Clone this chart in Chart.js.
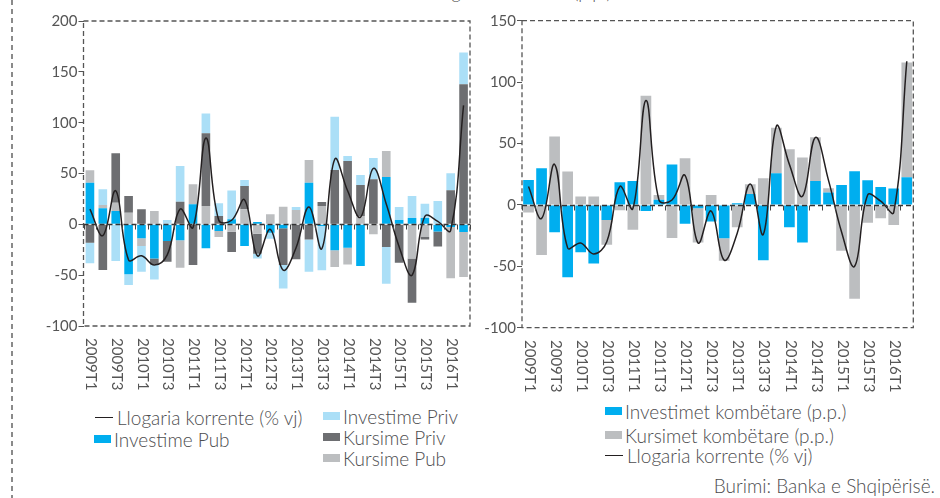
<!DOCTYPE html>
<html><head><meta charset="utf-8">
<script src="https://cdn.jsdelivr.net/npm/chart.js@4"></script>
<style>
body{margin:0;width:940px;height:498px;overflow:hidden;background:#fff;font-family:Lato,'Open Sans',sans-serif;color:#555;position:relative}
.abs{position:absolute}
#c1wrap{left:0;top:0;width:480px;height:400px}
#c2wrap{left:480px;top:0;width:460px;height:400px}
.leg{position:absolute;display:flex;align-items:center;height:22px;font-size:19px;font-weight:300;white-space:nowrap;color:#4d4d4f}
.sw{display:inline-block;width:17px;height:8px;margin-right:3px;flex:none}
.ln{display:inline-block;width:18px;height:0;border-top:1.5px solid #231f20;margin-right:4px;flex:none}
</style></head>
<body>
<div class="abs" style="left:11px;top:0;width:2px;height:498px;background:repeating-linear-gradient(to bottom,#8a8a8a 0 5px,transparent 5px 9px)"></div>
<div id="title" class="abs" style="top:-17px;font-size:18px;line-height:18px;font-weight:300;white-space:nowrap;color:#555"><span id="tpre">Kontributi i investimeve dhe kursimeve në llo</span>garinë korrente (p.p.)</div>
<div class="abs" id="c1wrap"><canvas id="c1"></canvas></div>
<div class="abs" id="c2wrap"><canvas id="c2"></canvas></div>

<div class="leg" style="left:95px;top:406px"><span class="ln"></span>Llogaria korrente (% vj)</div>
<div class="leg" style="left:94px;top:428px"><span class="sw" style="background:#00aeef"></span>Investime Pub</div>
<div class="leg" style="left:323px;top:405px"><span class="sw" style="background:#abdff7"></span>Investime Priv</div>
<div class="leg" style="left:323px;top:426px"><span class="sw" style="background:#6d6e71"></span>Kursime Priv</div>
<div class="leg" style="left:323px;top:447px"><span class="sw" style="background:#bcbec0"></span>Kursime Pub</div>

<div class="leg" style="left:605px;top:400px"><span class="sw" style="background:#00aeef"></span>Investimet kombëtare (p.p.)</div>
<div class="leg" style="left:605px;top:424px"><span class="sw" style="background:#bcbec0"></span>Kursimet kombëtare (p.p.)</div>
<div class="leg" style="left:605px;top:444px"><span class="ln"></span>Llogaria korrente (% vj)</div>
<div class="leg" style="right:5px;top:474px">Burimi: Banka e Shqipërisë.</div>

<script>
const categories = ['2009T1','2009T2','2009T3','2009T4','2010T1','2010T2','2010T3','2010T4','2011T1','2011T2','2011T3','2011T4','2012T1','2012T2','2012T3','2012T4','2013T1','2013T2','2013T3','2013T4','2014T1','2014T2','2014T3','2014T4','2015T1','2015T2','2015T3','2015T4','2016T1','2016T2'];
const leftTicks = [-100,-50,0,50,100,150,200];
const rightTicks = [-100,-50,0,50,100,150];

// Left panel: contributions (stacked)
const investimePub  = [41,15.7,13.1,-49.2,-13.8,-33.5,-16.4,-15.7,19.7,-23.6,-6.6,4.9,-21.3,2.3,-8.2,-3.9,0,41,-1.6,-25.6,-23,-41,0,46.6,4.3,6.2,6.2,-7,-2.6,-7.5];
const investimePriv = [-20.3,15.4,-36,-10.5,-25.3,-14.8,4.3,35.1,0,19.4,12.5,28.5,5.9,-4.6,-5.9,-23,3,-31.8,-43.6,52.2,4.9,9.8,21,-36.1,12.8,21.7,14.1,23,16.7,31.2];
const kursimePriv   = [-18,-45,48.6,16.4,14.8,-5.9,-20.3,22.3,-40,71.5,8.2,-20,23,-19.7,0,-36.1,-34.4,-14.8,3.9,53.5,62.3,30.5,44.3,-22.3,-37.7,-43.6,-2.3,-14.8,33.5,137.8];
const kursimePub    = [12.1,3.3,8.2,11.5,-7.5,13.1,0,-26.9,19.7,18,-5.9,-7.2,14.8,-9.2,9.8,17.4,14.1,22.3,18,-16.4,-16.4,8.2,-9.8,25.6,0,-33.5,-12.5,0,-50.5,-44.3];

// Right panel (stacked)
const investimetKombetare = [20.3,29.8,-22.2,-59,-38.5,-47.7,-12.2,18.4,19.5,-4.9,4.1,33,-15.4,-2.7,-13.5,-27.1,1.4,8.9,-45,25.7,-18.2,-30.6,19.5,10,16.3,27.4,20,14.6,13.3,22.5];
const kursimetKombetare   = [-6.2,-40.7,55.6,27.1,6.8,6.8,-20.3,-4.3,-20.3,88.9,4,-27,38,-27.9,8,-18.4,-18.2,7.9,21.7,37.2,45.3,38.5,35.5,3.6,-37.4,-76.4,-14.6,-10.8,-16.3,93.5];

// Current account (% yoy)
const llogariaKorrente = [15,-11,33,-35,-31,-40,-30,15,-3,85,4,4,24,-31,-5,-45,-23,17,-24,64,33,7,55,20,-22,-50,8,3,-6,117];

const COL = {invPub:'#00aeef', invPriv:'#abdff7', kPriv:'#6d6e71', kPub:'#bcbec0', line:'#231f20'};
const FONT = "Lato, 'Open Sans', sans-serif";

function deco(labelTop){
  return {
    id:'deco',
    afterDatasetsDraw(chart){
      const {ctx, chartArea:a, scales:{x,y}} = chart;
      ctx.save();
      ctx.strokeStyle='#555'; ctx.lineWidth=1.3; ctx.setLineDash([5,3]);
      ctx.strokeRect(a.left, a.top, a.right-a.left, a.bottom-a.top);
      const y0 = Math.round(y.getPixelForValue(0))+0.5;
      ctx.strokeStyle='#333'; ctx.lineWidth=1.5; ctx.setLineDash([5,3]);
      ctx.beginPath(); ctx.moveTo(a.left,y0); ctx.lineTo(a.right,y0); ctx.stroke();
      ctx.setLineDash([]);
      const w = x.getPixelForValue(1)-x.getPixelForValue(0);
      ctx.lineWidth=1; ctx.strokeStyle='#444';
      ctx.beginPath();
      for(let i=0;i<=categories.length;i++){
        const px = Math.round(x.getPixelForValue(i)-w/2)+0.5;
        ctx.moveTo(px,y0); ctx.lineTo(px,y0+5);
      }
      ctx.stroke();
      ctx.restore();
    },
    afterDraw(chart){
      const {ctx, scales:{x}} = chart;
      ctx.save();
      ctx.font = '15px '+FONT; ctx.fillStyle='#555'; ctx.textBaseline='middle'; ctx.textAlign='left';
      for(let i=0;i<categories.length;i+=2){
        const px = x.getPixelForValue(i);
        ctx.save(); ctx.translate(px+1, labelTop); ctx.rotate(Math.PI/2);
        ctx.fillText(categories[i],0,0); ctx.restore();
      }
      ctx.restore();
    }
  };
}

function yScale(ticks, width){
  return {
    stacked:true, min:ticks[0], max:ticks[ticks.length-1],
    afterBuildTicks(s){ s.ticks = ticks.map(v=>({value:v})); },
    afterFit(s){ s.width = width; },
    grid:{display:true, drawOnChartArea:false, drawTicks:true, tickLength:5, color:'#555', lineWidth:1},
    border:{display:false},
    ticks:{color:'#555', font:{family:FONT, size:15}, padding:1}
  };
}
function xScale(height){
  return {
    stacked:true,
    afterFit(s){ s.height = height; },
    grid:{display:false}, border:{display:false},
    ticks:{display:false}
  };
}
const lineDs = {type:'line', label:'Llogaria korrente (% vj)', data:llogariaKorrente, borderColor:COL.line, borderWidth:1.5, pointRadius:0, tension:0.4, stack:'ca', order:0, fill:false};

Chart.defaults.animation = false;

new Chart(document.getElementById('c1'), {
  type:'bar',
  data:{labels:categories, datasets:[
    {...lineDs},
    {label:'Investime Pub', data:investimePub, backgroundColor:COL.invPub, stack:'s', order:1},
    {label:'Kursime Pub', data:kursimePub, backgroundColor:COL.kPub, stack:'s', order:1},
    {label:'Kursime Priv', data:kursimePriv, backgroundColor:COL.kPriv, stack:'s', order:1},
    {label:'Investime Priv', data:investimePriv, backgroundColor:COL.invPriv, stack:'s', order:1}
  ]},
  options:{
    responsive:true, maintainAspectRatio:false, animation:false,
    datasets:{bar:{categoryPercentage:1, barPercentage:0.67, borderWidth:0}},
    layout:{padding:{left:0, top:21, right:10, bottom:0}},
    plugins:{legend:{display:false}, tooltip:{enabled:false}},
    scales:{x:xScale(74), y:yScale(leftTicks, 83.5)}
  },
  plugins:[deco(338)]
});

new Chart(document.getElementById('c2'), {
  type:'bar',
  data:{labels:categories, datasets:[
    {...lineDs},
    {label:'Investimet kombëtare (p.p.)', data:investimetKombetare, backgroundColor:COL.invPub, stack:'s', order:1},
    {label:'Kursimet kombëtare (p.p.)', data:kursimetKombetare, backgroundColor:COL.kPub, stack:'s', order:1}
  ]},
  options:{
    responsive:true, maintainAspectRatio:false, animation:false,
    datasets:{bar:{categoryPercentage:1, barPercentage:0.82, borderWidth:0}},
    layout:{padding:{left:0, top:20.7, right:26.7, bottom:0}},
    plugins:{legend:{display:false}, tooltip:{enabled:false}},
    scales:{x:xScale(72.3), y:yScale(rightTicks, 42)}
  },
  plugins:[deco(340)]
});

const pre = document.getElementById('tpre');
document.getElementById('title').style.left = (451 - pre.offsetWidth) + 'px';
</script>
</body></html>
